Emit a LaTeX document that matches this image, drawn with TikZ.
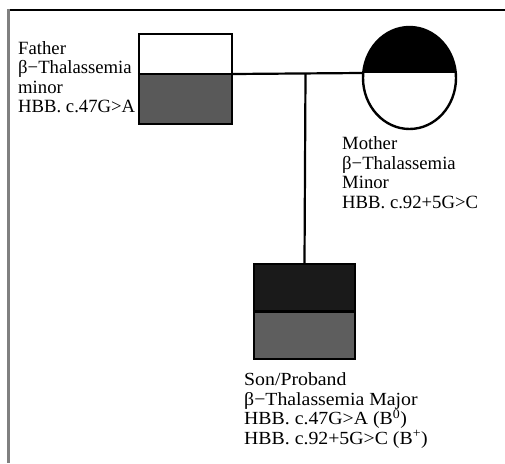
\documentclass[tikz,border=0pt]{standalone}
\usepackage{fontspec}
\setmainfont{Liberation Serif}
\newfontfamily\sonfont[FakeStretch=1.07]{Liberation Serif}
\usetikzlibrary{shapes.geometric}
\definecolor{fgrey}{HTML}{595959}
\definecolor{sgrey}{HTML}{5E5E5E}
\definecolor{sblack}{HTML}{1A1A1A}
\tikzset{
  member/.style={draw=black, line width=2.4pt, inner sep=0pt},
  link/.style={draw=black, line width=2.2pt},
  lbl/.style={anchor=base west, inner sep=0pt, align=left, font=\fontsize{18.7}{19.5}\selectfont},
}
\begin{document}
\begin{tikzpicture}[x=1pt,y=-1pt]
\useasboundingbox (0,0) rectangle (505,463);
\fill[white] (0,0) rectangle (505,463);
% frame
\draw[black, line width=1.6pt] (7,10) -- (505,10);
\draw[gray, line width=3pt] (8,9.2) -- (8,463);
% members
\node[member, rectangle, minimum width=93pt, minimum height=90pt,
  path picture={\fill[fgrey] (path picture bounding box.south west) rectangle ([yshift=5pt]path picture bounding box.east);}]
  (father) at (185.5,79) {};
\draw[black, line width=2.4pt] ([yshift=5pt]father.west) -- ([yshift=5pt]father.east);
\node[member, ellipse, minimum width=93pt, minimum height=102pt,
  path picture={\fill[black] (path picture bounding box.north west) rectangle ([yshift=5pt]path picture bounding box.east);}]
  (mother) at (409.5,78) {};
\node[member, rectangle, minimum width=101pt, minimum height=95pt,
  path picture={\fill[sgrey] (path picture bounding box.south west) rectangle (path picture bounding box.east);
                \fill[sblack] (path picture bounding box.north west) rectangle (path picture bounding box.east);}]
  (son) at (304.5,311.5) {};
\draw[black, line width=2.4pt] (son.west) -- (son.east);
% connectors
\coordinate (j) at (305.5,74);
\draw[link] ([yshift=5pt]father.east) -- ([yshift=5pt]mother.west);
\draw[link] (j) -- (son.north);
% labels (anchored at the baseline of the last line)
\node[lbl] (flbl) at (18,112.5) {Father\\β−Thalassemia\\minor\\HBB. c.47G>A};
\node[lbl] (mlbl) at (342,208) {Mother\\β−Thalassemia\\Minor\\HBB. c.92+5G>C};
\node[lbl, font=\sonfont\fontsize{18.5}{19.5}\selectfont] (slbl) at (244,444) {Son/Proband\\β−Thalassemia Major\\HBB. c.47G>A (B\textsuperscript{0})\\HBB. c.92+5G>C (B\textsuperscript{+})};
\end{tikzpicture}
\end{document}
